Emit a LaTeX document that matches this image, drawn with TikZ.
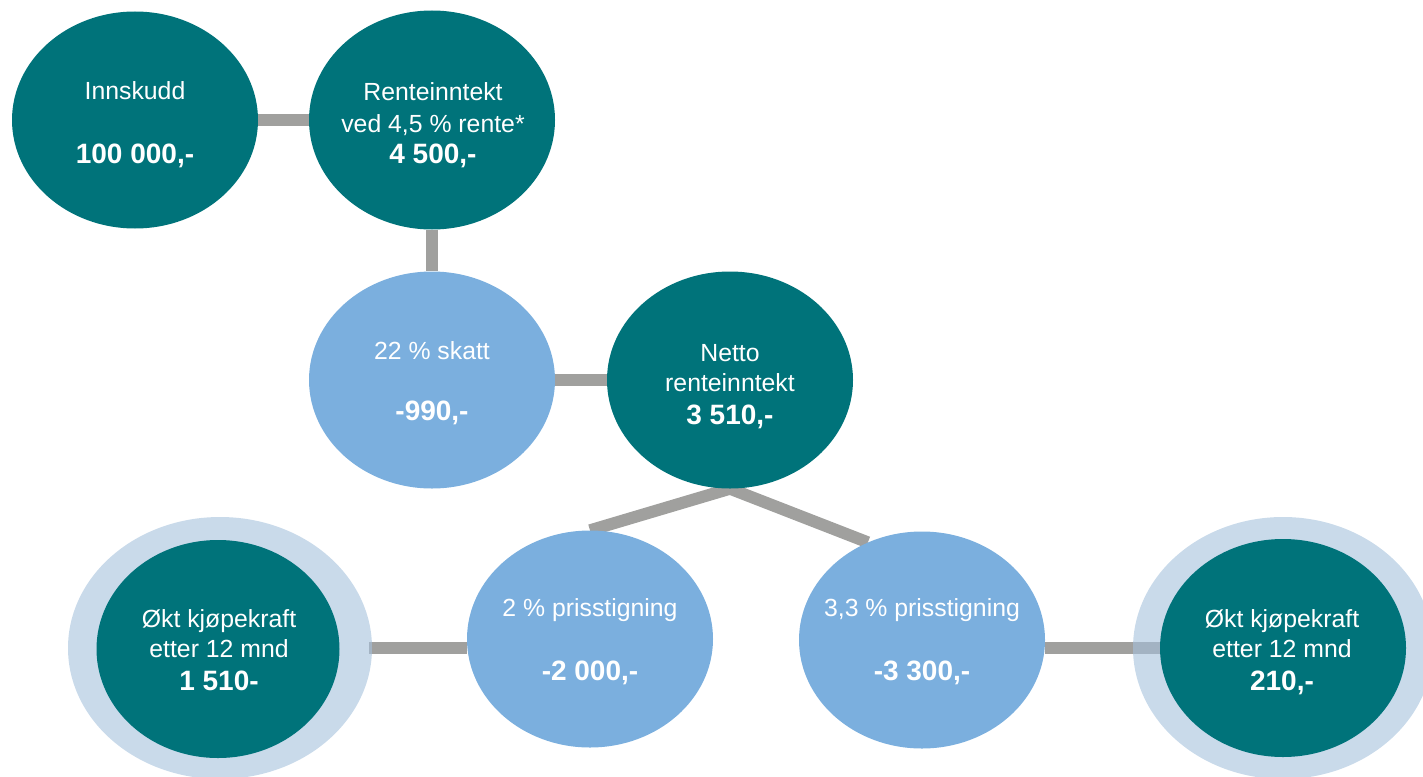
\documentclass[tikz,border=0pt]{standalone}
\usepackage{fontspec}
\setmainfont{Liberation Sans}
\usetikzlibrary{shapes.geometric}
\definecolor{myteal}{RGB}{0,115,122}
\definecolor{myblue}{RGB}{123,175,222}
\definecolor{myhalo}{RGB}{165,193,220}
\definecolor{mygray}{RGB}{160,160,158}
\pgfdeclarelayer{bg}
\pgfsetlayers{bg,main}
\begin{document}
\begin{tikzpicture}[x=1pt,y=-1pt,
  bub/.style={ellipse, minimum width=246pt, minimum height=217pt, inner sep=0pt, draw=none},
  darkbub/.style={bub, fill=myteal},
  lightbub/.style={bub, fill=myblue},
  halo/.style={ellipse, minimum width=304pt, minimum height=262pt, inner sep=0pt, draw=none, fill=myhalo, fill opacity=0.6},
  conn/.style={draw=mygray, line width=12pt},
  reg/.style={text=white, font=\fontsize{24.8}{28}\selectfont, anchor=base, inner sep=0pt},
  big/.style={text=white, font=\fontsize{28}{32}\selectfont\bfseries, anchor=base, inner sep=0pt}]
\useasboundingbox (0,0) rectangle (1423,776);

% bubbles
\node[darkbub] (inn) at (135,120) {};
\node[darkbub, minimum height=219pt] (rente) at (432,120) {};
\node[lightbub] (skatt) at (432,380) {};
\node[darkbub] (netto) at (730,380) {};
\node[lightbub] (p2) at (590,639) {};
\node[lightbub] (p3) at (922,640) {};
\node[halo] (lhalo) at (220,648) {};
\node[halo, minimum width=300pt] (rhalo) at (1283,648) {};
\node[darkbub, minimum width=243pt, minimum height=218pt] (lin) at (218,649) {};
\node[darkbub, minimum width=246pt, minimum height=218pt] (rin) at (1283,648) {};

% connectors
\begin{pgfonlayer}{bg}
\draw[conn] (inn.east) -- (rente.west);
\draw[conn] (rente.south) -- (skatt.north);
\draw[conn] (skatt.east) -- (netto.west);
\draw[conn] (netto.south) -- (p2.north);
\draw[conn] (netto.south) -- (p3.119);
\draw[conn] ([xshift=-3pt]lhalo.east) -- (lhalo.east -| p2.west);
\draw[conn] (rin.west -| p3.east) -- (rin.west);
\end{pgfonlayer}

% texts
\node[reg] (t1a) at (135,99) {Innskudd};
\node[big] (t1b) at (135,163) {100 000,-};
\node[reg] (t2a) at (433,100) {Renteinntekt};
\node[reg] (t2b) at (433,132) {ved 4,5 \% rente*};
\node[big] (t2c) at (433,163) {4 500,-};
\node[reg] (t3a) at (432,359) {22 \% skatt};
\node[big] (t3b) at (432,420) {-990,-};
\node[reg] (t4a) at (730,361) {Netto};
\node[reg] (t4b) at (730,391) {renteinntekt};
\node[big] (t4c) at (730,424) {3 510,-};
\node[reg] (t5a) at (590,616) {2 \% prisstigning};
\node[big] (t5b) at (590,680) {-2 000,-};
\node[reg] (t6a) at (922,616) {3,3 \% prisstigning};
\node[big] (t6b) at (922,680) {-3 300,-};
\node[reg] (t7a) at (219,627) {Økt kjøpekraft};
\node[reg] (t7b) at (219,657) {etter 12 mnd};
\node[big] (t7c) at (219,690) {1 510-};
\node[reg] (t8a) at (1282,627) {Økt kjøpekraft};
\node[reg] (t8b) at (1282,657) {etter 12 mnd};
\node[big] (t8c) at (1282,690) {210,-};
\end{tikzpicture}
\end{document}
